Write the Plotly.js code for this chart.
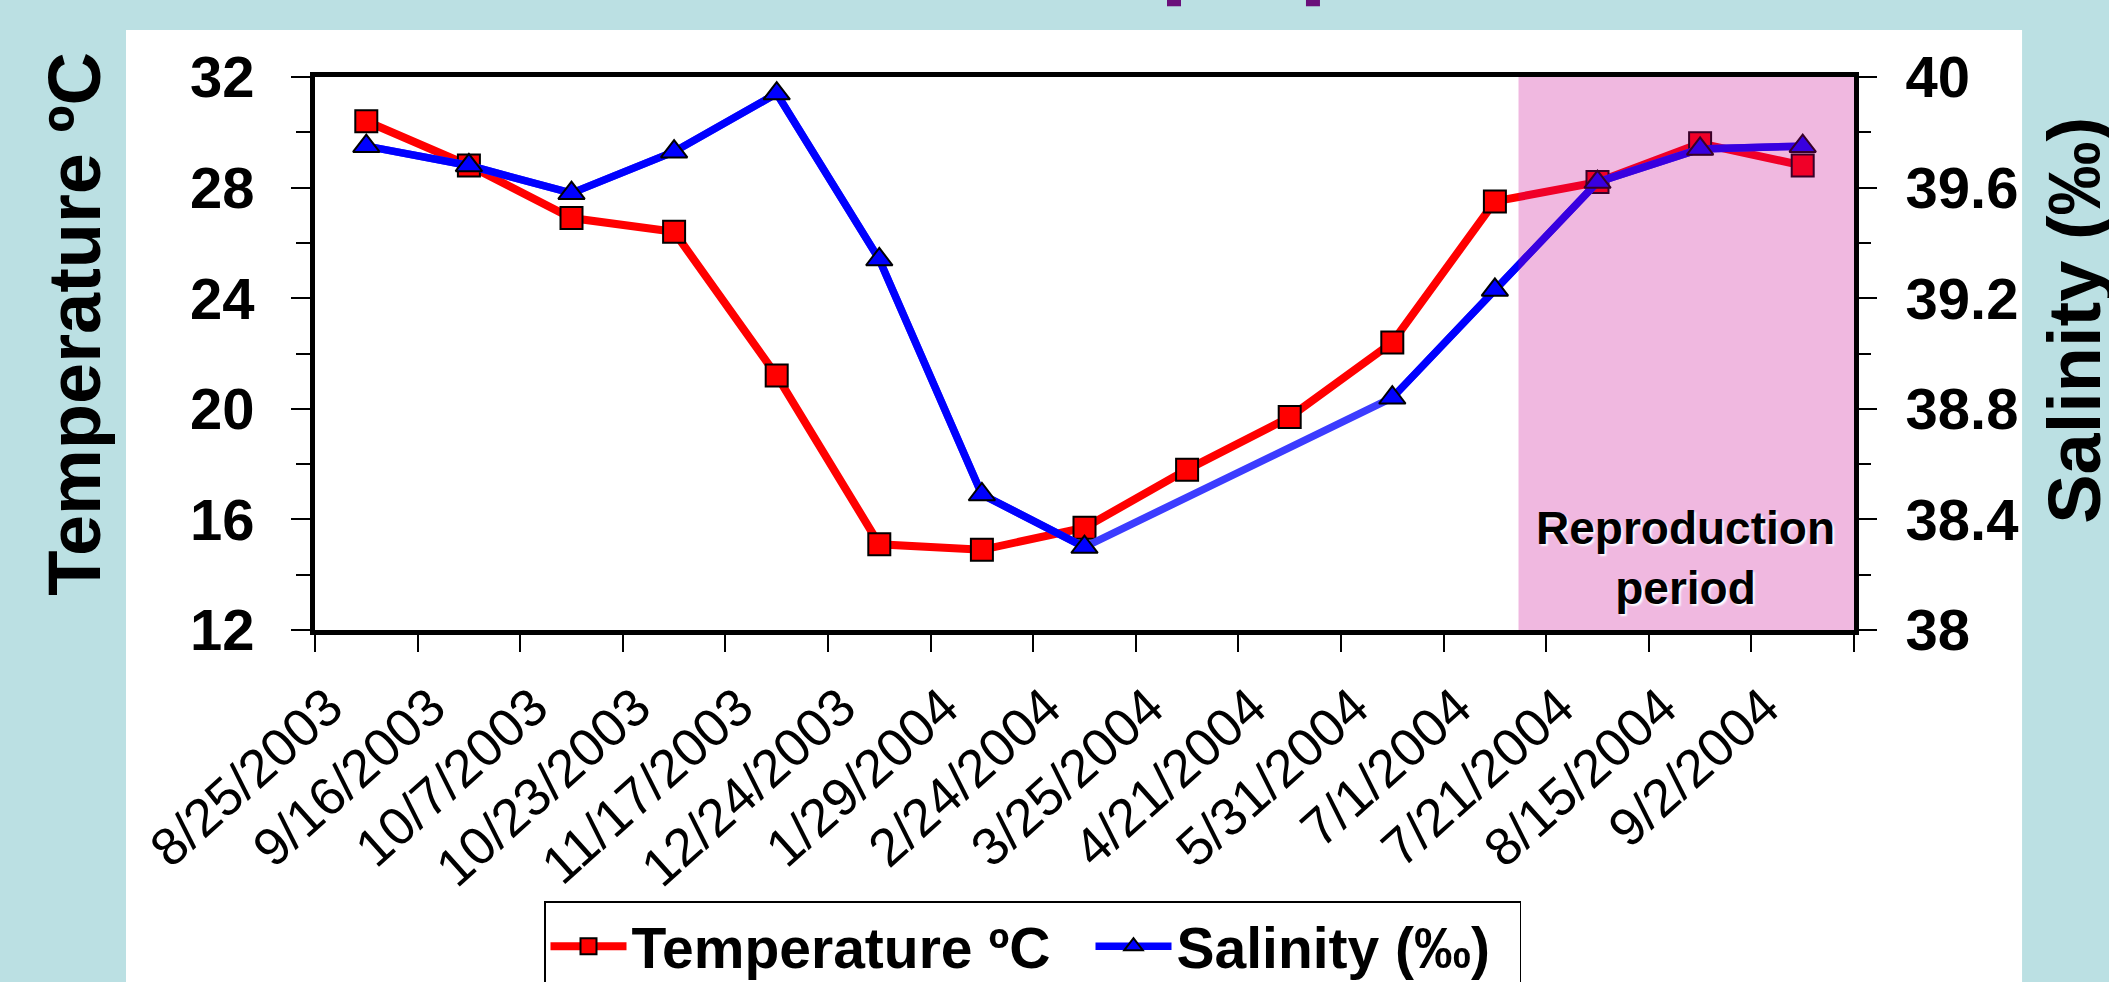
<!DOCTYPE html>
<html>
<head>
<meta charset="utf-8">
<script src="https://cdn.plot.ly/plotly-3.0.1.min.js"></script>
<style>
  html, body { margin: 0; padding: 0; background: #BBE0E3; }
  #chart { width: 2109px; height: 982px; }
</style>
</head>
<body>
<div id="chart"></div>
<script>
// ---- data ----
const sampleDates = ["8/25/2003", "9/16/2003", "10/7/2003", "10/23/2003", "11/17/2003",
  "12/24/2003", "1/29/2004", "2/24/2004", "3/25/2004", "4/21/2004", "5/31/2004",
  "7/1/2004", "7/21/2004", "8/15/2004", "9/2/2004"];
const temperature = [30.4, 28.8, 26.9, 26.4, 21.2, 15.1, 14.9, 15.7, 17.8, 19.7, 22.4, 27.5, 28.2, 29.6, 28.8];
const salinity = [39.75, 39.68, 39.58, 39.73, 39.94, 39.34, 38.49, 38.30, null, null, 38.84, 39.23, 39.62, 39.74, 39.75];
const temperatureName = "Temperature ºC";
const salinityName = "Salinity (‰)";
const shadedLabel = "Reproduction<br>period";

const FONT = "Liberation Sans, Arial, sans-serif";

const traces = [
  {
    x: sampleDates, y: temperature, name: temperatureName, type: "scatter",
    mode: "lines+markers", yaxis: "y",
    line: { color: "#FF0000", width: 8 },
    marker: { symbol: "square", size: 22, color: "#FF0000", line: { color: "#000", width: 2 } },
    legendwidth: 454
  },
  {
    x: sampleDates, y: salinity, name: salinityName, type: "scatter",
    mode: "lines", yaxis: "y2", connectgaps: true, showlegend: false, hoverinfo: "skip",
    line: { color: "#3C3CFF", width: 7.5 }
  },
  {
    x: sampleDates, y: salinity, name: salinityName, type: "scatter",
    mode: "lines+markers", yaxis: "y2", connectgaps: false,
    line: { color: "#0000FF", width: 7.5 },
    marker: { symbol: "triangle-up", size: 23, color: "#0000FF", line: { color: "#000", width: 2 } },
    legendwidth: 338
  }
];

const layout = {
  width: 2109, height: 982,
  margin: { l: 315, r: 255, t: 77, b: 352, pad: 0, autoexpand: false },
  paper_bgcolor: "#BBE0E3",
  plot_bgcolor: "#FFFFFF",
  font: { family: FONT, color: "#000" },
  showlegend: true,
  xaxis: {
    type: "category", categoryorder: "array", categoryarray: sampleDates,
    range: [-0.5, 14.5], automargin: false,
    showline: true, linecolor: "#000", linewidth: 5, mirror: true,
    ticks: "outside", ticklen: 17, tickwidth: 2, tickcolor: "#000",
    tickson: "boundaries", tickangle: -42,
    ticklabelstandoff: 20, ticklabelshift: -38,
    tickfont: { family: FONT, size: 53, color: "#000" },
    showgrid: false, zeroline: false
  },
  yaxis: {
    range: [12, 32], tick0: 12, dtick: 4, automargin: false,
    ticks: "outside", ticklen: 19, tickwidth: 2, tickcolor: "#000",
    minor: { dtick: 2, ticks: "outside", ticklen: 14, tickwidth: 2, tickcolor: "#000", showgrid: false },
    showline: true, linecolor: "#000", linewidth: 5,
    tickfont: { family: FONT, size: 58, weight: "bold", color: "#000" },
    ticklabelstandoff: 25,
    showgrid: false, zeroline: false
  },
  yaxis2: {
    overlaying: "y", side: "right", automargin: false,
    range: [38, 40], tick0: 38, dtick: 0.4,
    ticks: "outside", ticklen: 18, tickwidth: 2, tickcolor: "#000",
    minor: { dtick: 0.2, ticks: "outside", ticklen: 12, tickwidth: 2, tickcolor: "#000", showgrid: false },
    showline: true, linecolor: "#000", linewidth: 5,
    tickfont: { family: FONT, size: 58, weight: "bold", color: "#000" },
    ticklabelstandoff: 17,
    showgrid: false, zeroline: false
  },
  legend: {
    orientation: "h", x: 0.1488, xanchor: "left", y: -0.4902, yanchor: "top",
    bgcolor: "#FFFFFF", bordercolor: "#000", borderwidth: 1.5,
    font: { family: FONT, size: 57, weight: "bold", color: "#000" },
    itemwidth: 76, tracegroupgap: 0
  },
  shapes: [
    { type: "rect", xref: "paper", yref: "paper", x0: -0.1228, x1: 1.1092, y0: -0.7, y1: 1.0852,
      fillcolor: "#FFFFFF", line: { width: 0 }, layer: "below" },
    { type: "rect", xref: "x", yref: "paper", x0: 11.23, x1: 14.5, y0: 0, y1: 1,
      fillcolor: "rgb(201,1,144)", opacity: 0.28, line: { width: 0 }, layer: "above" },
    { type: "rect", xref: "paper", yref: "paper", x0: 0.5536, x1: 0.5627, y0: 1.1279, y1: 1.16,
      fillcolor: "#6A0F7A", line: { width: 0 }, layer: "above" },
    { type: "rect", xref: "paper", yref: "paper", x0: 0.6439, x1: 0.6530, y0: 1.1279, y1: 1.16,
      fillcolor: "#6A0F7A", line: { width: 0 }, layer: "above" }
  ],
  annotations: [
    { text: temperatureName, xref: "paper", yref: "paper", x: -0.156, y: 0.5535,
      xanchor: "center", yanchor: "middle", textangle: -90, showarrow: false,
      font: { family: FONT, size: 74, weight: "bold", color: "#000" } },
    { text: salinityName, xref: "paper", yref: "paper", x: 1.1433, y: 0.56,
      xanchor: "center", yanchor: "middle", textangle: -90, showarrow: false,
      font: { family: FONT, size: 74, weight: "bold", color: "#000" } },
    { text: shadedLabel, xref: "paper", yref: "paper", x: 0.8908, y: 0.13,
      xanchor: "center", yanchor: "middle", showarrow: false,
      font: { family: FONT, size: 46, weight: "bold", color: "#000", shadow: "2px 2px 2px #FFFFFF" } }
  ]
};

Plotly.newPlot("chart", traces, layout, { staticPlot: true, displayModeBar: false });
</script>
</body>
</html>
